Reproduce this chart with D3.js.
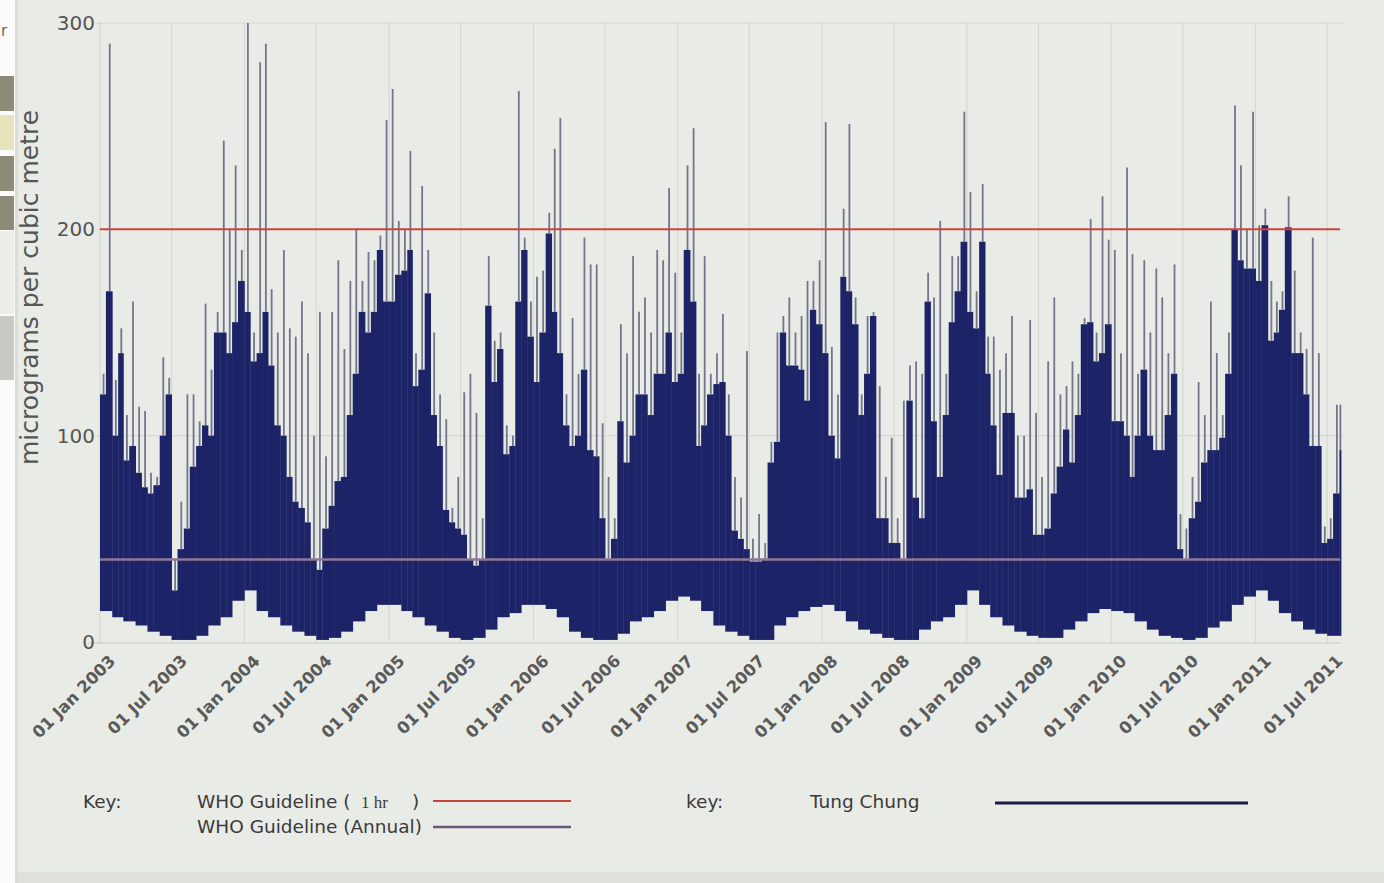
<!DOCTYPE html>
<html>
<head>
<meta charset="utf-8">
<script src="https://cdn.jsdelivr.net/npm/d3@7"></script>
<style>
  html, body { margin: 0; padding: 0; background: #fff; }
  svg { display: block; font-family: "DejaVu Sans", Verdana, sans-serif; }
</style>
</head>
<body>
<svg id="chart" width="1384" height="883"></svg>
<script>
// Tung Chung readings in half-month bins (1st and 16th of each month).
// hi = top of the dense band, pk = tallest single spike in the bin.
const hi2003 = [120,170,100,140,88,95,82,75,72,76,100,120, 25,45,55,85,95,105,100,150,150,140,155,175];
const pk2003 = [130,290,127,152,110,165,114,112,82,80,138,128, 40,68,120,120,107,164,132,160,243,200,231,190];
const hi2004 = [160,136,140,160,134,105,100,80,68,65,58,40, 35,55,66,78,80,110,130,160,150,160,190,165];
const pk2004 = [300,150,281,290,171,150,190,152,148,165,140,100, 160,90,160,185,142,175,200,175,189,185,197,253];
const hi2005 = [165,178,180,190,124,132,169,110,95,64,58,55, 52,40,37,40,163,126,142,91,95,165,190,148];
const pk2005 = [268,204,200,238,140,221,190,150,120,108,65,80, 121,130,111,60,187,146,150,105,100,267,196,165];
const hi2006 = [126,150,198,160,140,105,95,100,132,93,90,60, 40,50,107,87,100,120,120,110,130,130,150,126];
const pk2006 = [177,180,208,239,254,120,157,130,196,183,183,106, 80,60,154,140,187,160,167,150,190,185,220,179];
const hi2007 = [130,190,165,95,105,120,125,126,100,54,50,45, 39,39,40,87,97,150,134,134,132,117,161,154];
const pk2007 = [150,231,249,130,187,130,140,159,120,80,70,141, 50,62,48,97,150,158,167,150,158,175,175,185];
const hi2008 = [140,100,89,177,170,154,110,130,158,60,60,48, 48,40,117,70,60,165,107,80,110,155,170,194];
const pk2008 = [252,143,120,210,251,167,120,158,160,124,80,99, 60,117,134,136,130,179,167,204,130,187,187,257];
const hi2009 = [160,152,194,130,105,81,111,111,70,70,74,52, 52,55,72,85,103,87,110,154,155,136,140,154];
const pk2009 = [218,170,222,148,148,132,140,158,100,100,156,111, 80,136,167,120,124,136,130,157,205,150,216,195];
const hi2010 = [107,107,100,80,100,132,100,93,93,110,130,45, 40,60,68,87,93,93,99,130,200,185,181,181];
const pk2010 = [190,140,230,188,130,185,150,181,167,140,183,62, 55,80,126,110,165,140,110,150,260,231,200,257];
const hi2011 = [175,202,146,150,161,201,140,140,120,95,95,48, 50,72,93];
const pk2011 = [202,210,175,165,170,216,180,150,142,196,140,56, 60,115,115];

// bottom of the band, one value per month
const lo2003 = [15,12,10,8,5,3,1,1,3,8,12,20];
const lo2004 = [25,15,12,8,5,3,1,2,5,10,15,18];
const lo2005 = [18,15,12,8,5,2,1,2,6,12,14,18];
const lo2006 = [18,16,12,5,2,1,1,4,10,12,15,20];
const lo2007 = [22,20,15,8,5,3,1,1,8,12,15,17];
const lo2008 = [18,15,10,6,4,2,1,1,6,10,12,18];
const lo2009 = [25,18,12,8,5,3,2,2,6,10,14,16];
const lo2010 = [15,14,10,6,3,2,1,2,7,10,18,22];
const lo2011 = [25,20,14,10,6,4,3,3];

const guideHour = 200, guideAnnual = 40;
const yTicks = [0, 100, 200, 300];

const hiVals = [].concat(hi2003, hi2004, hi2005, hi2006, hi2007, hi2008, hi2009, hi2010, hi2011);
const pkVals = [].concat(pk2003, pk2004, pk2005, pk2006, pk2007, pk2008, pk2009, pk2010, pk2011);
const loVals = [].concat(lo2003, lo2004, lo2005, lo2006, lo2007, lo2008, lo2009, lo2010, lo2011);

const svg = d3.select('#chart');
const t0 = new Date(2003, 0, 1), tEnd = new Date(2011, 7, 5);
const x = d3.scaleTime().domain([t0, tEnd]).range([100, 1341]);
const y = d3.scaleLinear().domain([0, 300]).range([642, 23]);

/* ── page furniture: cut-off sidebar on the left, panel background ── */
svg.append('rect').attr('width', 1384).attr('height', 883).attr('fill', '#f3f3f0');
svg.append('rect').attr('x', 0).attr('y', 0).attr('width', 15).attr('height', 883).attr('fill', '#fbfbf9');
[[76, 35, '#8d8b76'], [115, 35, '#e7e3bb'], [156, 35, '#8d8b76'], [196, 34, '#8d8b76'],
 [231, 83, '#ededea'], [316, 64, '#cacac4']].forEach(([yy, h, c]) =>
  svg.append('rect').attr('x', 0).attr('y', yy).attr('width', 14).attr('height', h).attr('fill', c));
svg.append('text').attr('x', 1).attr('y', 36).attr('font-size', 15).attr('fill', '#666').text('r');
svg.append('rect').attr('x', 15).attr('y', 0).attr('width', 3).attr('height', 883).attr('fill', '#dcdcd8');
svg.append('rect').attr('x', 18).attr('y', 0).attr('width', 1366).attr('height', 872).attr('fill', '#e9ebe6');
svg.append('rect').attr('x', 18).attr('y', 872).attr('width', 1366).attr('height', 11).attr('fill', '#dfe0dc');

/* ── grid ── */
const tickDates = d3.timeMonth.every(6).range(t0, tEnd);
const grid = svg.append('g').attr('class', 'grid');
grid.selectAll('line.v').data(tickDates).join('line').attr('class', 'v')
  .attr('x1', d => x(d)).attr('x2', d => x(d))
  .attr('y1', y(300)).attr('y2', y(0))
  .attr('stroke', '#d6d8d2').attr('stroke-width', 1.2);
grid.selectAll('line.h').data([100, 200, 300]).join('line').attr('class', 'h')
  .attr('x1', x(t0)).attr('x2', 1343)
  .attr('y1', d => y(d)).attr('y2', d => y(d))
  .attr('stroke', '#d6d8d2').attr('stroke-width', 1.2);
grid.append('line').attr('x1', 88).attr('x2', 1341).attr('y1', y(0) + 1).attr('y2', y(0) + 1)
  .attr('stroke', '#d3d5cf').attr('stroke-width', 1.5);

/* ── data ── */
const bins = hiVals.map((h, k) => {
  const yr = 2003 + Math.floor(k / 24), m = Math.floor((k % 24) / 2), half = k % 2;
  const start = new Date(yr, m, half ? 16 : 1);
  let end = half ? new Date(yr, m + 1, 1) : new Date(yr, m, 16);
  if (end > tEnd) end = tEnd;
  return { start, end, hi: h, pk: pkVals[k], lo: loVals[Math.floor(k / 2)] };
});

const dataG = svg.append('g').attr('class', 'series');
dataG.selectAll('rect').data(bins).join('rect')
  .attr('x', d => x(d.start))
  .attr('width', d => x(d.end) - x(d.start) + 0.4)
  .attr('y', d => y(d.hi))
  .attr('height', d => y(d.lo) - y(d.hi))
  .attr('fill', '#1c2367');
dataG.selectAll('line.spike').data(bins).join('line').attr('class', 'spike')
  .attr('x1', d => x(d.start) + 0.6 * (x(d.end) - x(d.start)))
  .attr('x2', d => x(d.start) + 0.6 * (x(d.end) - x(d.start)))
  .attr('y1', d => y(d.hi)).attr('y2', d => y(d.pk))
  .attr('stroke', '#73758b').attr('stroke-width', 1.8);

/* ── guideline levels ── */
svg.append('line').attr('x1', x(t0)).attr('x2', 1340)
  .attr('y1', y(guideHour)).attr('y2', y(guideHour))
  .attr('stroke', '#c9463f').attr('stroke-width', 2);
svg.append('line').attr('x1', x(t0)).attr('x2', 1340)
  .attr('y1', y(guideAnnual)).attr('y2', y(guideAnnual))
  .attr('stroke', '#8e7896').attr('stroke-width', 2.5);

/* ── axes ── */
const yAxis = svg.append('g').attr('transform', `translate(${x(t0)},0)`)
  .call(d3.axisLeft(y).tickValues(yTicks).tickSize(3).tickPadding(2));
yAxis.select('.domain').remove();
yAxis.selectAll('line').attr('stroke', '#c8cac4');
yAxis.selectAll('text').attr('font-size', 20).attr('fill', '#555')
  .attr('font-family', '"DejaVu Sans", Verdana, sans-serif');

const xAxis = svg.append('g').attr('transform', `translate(0,${y(0)})`)
  .call(d3.axisBottom(x).tickValues(tickDates).tickSize(0).tickFormat(d3.timeFormat('%d %b %Y')));
xAxis.select('.domain').remove();
xAxis.selectAll('text')
  .attr('font-size', 16.5).attr('font-weight', 'bold').attr('fill', '#5a5a5a')
  .attr('font-family', '"DejaVu Sans", Verdana, sans-serif')
  .attr('text-anchor', 'end')
  .attr('dy', null).attr('y', 0)
  .attr('transform', 'translate(16,20) rotate(-45)');

svg.append('text')
  .attr('transform', `translate(38,${(y(0) + y(300)) / 2 - 45}) rotate(-90)`)
  .attr('text-anchor', 'middle').attr('font-size', 25).attr('fill', '#555')
  .text('micrograms per cubic metre');

/* ── legend ── */
const leg = svg.append('g').attr('font-size', 18.5).attr('fill', '#3a3a3a');
leg.append('text').attr('x', 83).attr('y', 808).text('Key:');
leg.append('text').attr('x', 197).attr('y', 808).text('WHO Guideline (');
leg.append('text').attr('x', 361).attr('y', 808).attr('font-size', 17)
  .attr('font-family', '"Liberation Serif", serif').text('1 hr');
leg.append('text').attr('x', 412).attr('y', 808).text(')');
leg.append('text').attr('x', 197).attr('y', 833).text('WHO Guideline (Annual)');
leg.append('line').attr('x1', 433).attr('x2', 571).attr('y1', 801).attr('y2', 801)
  .attr('stroke', '#c9463f').attr('stroke-width', 2);
leg.append('line').attr('x1', 433).attr('x2', 571).attr('y1', 827).attr('y2', 827)
  .attr('stroke', '#6a5878').attr('stroke-width', 2.5);
leg.append('text').attr('x', 686).attr('y', 808).text('key:');
leg.append('text').attr('x', 810).attr('y', 808).text('Tung Chung');
leg.append('line').attr('x1', 995).attr('x2', 1248).attr('y1', 803).attr('y2', 803)
  .attr('stroke', '#1b1b4c').attr('stroke-width', 3);
</script>
</body>
</html>
